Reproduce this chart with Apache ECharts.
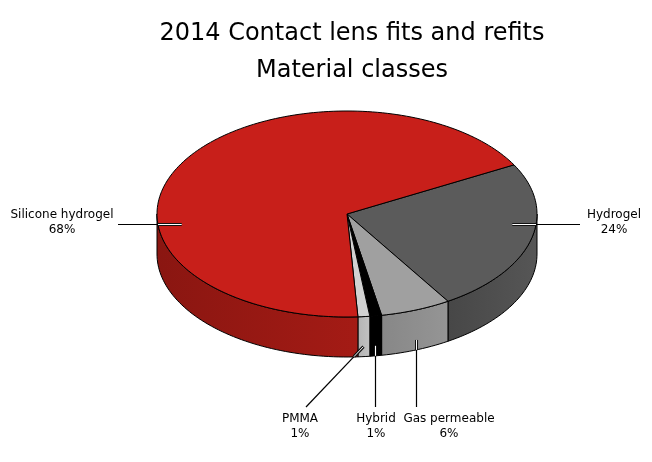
<!doctype html>
<html>

<head>
  <title>contact lens material classes</title>
  <script src="https://cdn.jsdelivr.net/npm/echarts@6/dist/echarts.min.js"></script>
  <style>
    body {
      margin: 0;
      background: #fff;
    }

    #main {
      width: 652px;
      height: 462px;
    }
  </style>
</head>

<body>
  <div id="main"></div>
</body>
<script>
// data, clockwise from the start angle
var categories = ['Hydrogel', 'Gas permeable', 'Hybrid', 'PMMA', 'Silicone hydrogel'];
var shares = [24, 6, 1, 1, 68];
var shareLabels = ['24%', '6%', '1%', '1%', '68%'];

// look
var topColors = ['#5b5b5b', '#a0a0a0', '#000000', '#d2d2d2', '#c81f1a'];
var sideColors = [['#474747', '#565656'], ['#878787', '#959595'], ['#000000', '#000000'],
  ['#b4b4b4', '#c2c2c2'], ['#8a1611', '#a41b15']];

// pie geometry (ellipse of the top face)
var cx = 347, cy = 214, rx = 190, ry = 103, depth = 40;
var startDeg = -28.5;

// where each label sits: side labels get a horizontal leader, bottom ones a drop line
var labelPlace = {
  'Hydrogel': { kind: 'side', tx: 614, ty: 222, ex: 580 },
  'Gas permeable': { kind: 'bottom', tx: 449, ty: 426, ex: null },
  'Hybrid': { kind: 'bottom', tx: 376, ty: 426, ex: null },
  'PMMA': { kind: 'bottom', tx: 300, ty: 426, ex: 306 },
  'Silicone hydrogel': { kind: 'side', tx: 62, ty: 222, ex: 118 }
};

var total = shares.reduce(function (a, b) { return a + b; }, 0);

function rad(d) { return d * Math.PI / 180; }
function pt(t, dy) {
  return [cx + rx * Math.cos(rad(t)), cy + ry * Math.sin(rad(t)) + (dy || 0)];
}
function arc(a, b, dy) {
  var out = [];
  var n = Math.max(2, Math.ceil(Math.abs(b - a) / 1.5));
  for (var i = 0; i <= n; i++) out.push(pt(a + (b - a) * i / n, dy));
  return out;
}
// front (visible) part of [a, b] : angles in 0..180 (mod 360)
function frontPart(a, b) {
  var parts = [];
  [-360, 0, 360].forEach(function (k) {
    var lo = Math.max(a, k), hi = Math.min(b, k + 180);
    if (hi > lo) parts.push([lo, hi]);
  });
  return parts;
}
function bottomEdgeY(x) {
  var u = (x - cx) / rx;
  return cy + ry * Math.sqrt(Math.max(0, 1 - u * u)) + depth;
}
function crisp(v) { return Math.round(v - 0.5) + 0.5; }

function renderItem(params, api) {
  var idx = params.dataIndex;
  var before = 0;
  for (var i = 0; i < idx; i++) before += shares[i];
  var a0 = startDeg + before / total * 360;
  var a1 = a0 + api.value(0) / total * 360;
  var mid = (a0 + a1) / 2;
  var children = [];

  // side walls
  frontPart(a0, a1).forEach(function (p) {
    var pts = arc(p[0], p[1], 0).concat(arc(p[1], p[0], depth));
    children.push({
      type: 'polygon', z2: 1,
      shape: { points: pts },
      style: {
        fill: {
          type: 'linear', x: 0, y: 0, x2: 1, y2: 0,
          colorStops: [{ offset: 0, color: sideColors[idx][0] }, { offset: 1, color: sideColors[idx][1] }]
        },
        stroke: '#000', lineWidth: 1, lineJoin: 'round'
      }
    });
  });

  // top face
  children.push({
    type: 'polygon', z2: 10,
    shape: { points: [[cx, cy]].concat(arc(a0, a1, 0)) },
    style: { fill: topColors[idx], stroke: '#000', lineWidth: 1, lineJoin: 'round' }
  });

  // leader line + label
  var lp = labelPlace[categories[idx]];
  var anchor, end, inner;
  if (lp.kind === 'side') {
    var sgn = Math.cos(rad(mid)) >= 0 ? 1 : -1;
    var ly = crisp(lp.ty + 2);
    anchor = [cx + sgn * 0.87 * rx, ly];
    end = [lp.ex, ly];
    var dy = (ly - cy) / ry;
    inner = [cx + sgn * rx * Math.sqrt(1 - dy * dy), ly];
  } else {
    var top = pt(mid, 0);
    anchor = [crisp(top[0]), top[1] + depth * 0.75];
    end = [lp.ex === null ? anchor[0] : lp.ex, lp.ty - 19];
    var yb = bottomEdgeY(anchor[0]);
    var f = (yb - anchor[1]) / (end[1] - anchor[1]);
    inner = [anchor[0] + (end[0] - anchor[0]) * f, yb];
  }
  children.push({
    type: 'line', z2: 20,
    shape: { x1: anchor[0], y1: anchor[1], x2: end[0], y2: end[1] },
    style: { stroke: '#000', lineWidth: 1.2 }
  });
  children.push({
    type: 'line', z2: 21,
    shape: { x1: anchor[0], y1: anchor[1], x2: inner[0], y2: inner[1] },
    style: { stroke: '#111', lineWidth: 3 }
  });
  children.push({
    type: 'line', z2: 22,
    shape: { x1: anchor[0], y1: anchor[1], x2: inner[0], y2: inner[1] },
    style: { stroke: '#fff', lineWidth: 1 }
  });
  children.push({
    type: 'text', z2: 30,
    style: {
      x: lp.tx, y: lp.ty,
      text: categories[idx] + '\n' + shareLabels[idx],
      align: 'center', verticalAlign: 'middle',
      fill: '#000', font: '12px "DejaVu Sans", Verdana, sans-serif',
      lineHeight: 15
    }
  });

  return { type: 'group', children: children };
}

var myChart = echarts.init(document.getElementById('main'));
var option = {
  backgroundColor: '#fff',
  animation: false,
  title: {
    text: '2014 Contact lens fits and refits\nMaterial classes',
    left: 347,
    textAlign: 'center',
    top: 10,
    textStyle: {
      fontFamily: '"DejaVu Sans", Verdana, sans-serif',
      fontSize: 24,
      fontWeight: 'normal',
      color: '#000',
      lineHeight: 37
    }
  },
  series: [{
    type: 'custom',
    coordinateSystem: 'none',
    renderItem: renderItem,
    data: shares.map(function (v, i) { return { name: categories[i], value: [v] }; })
  }]
};
myChart.setOption(option);
</script>
</html>
